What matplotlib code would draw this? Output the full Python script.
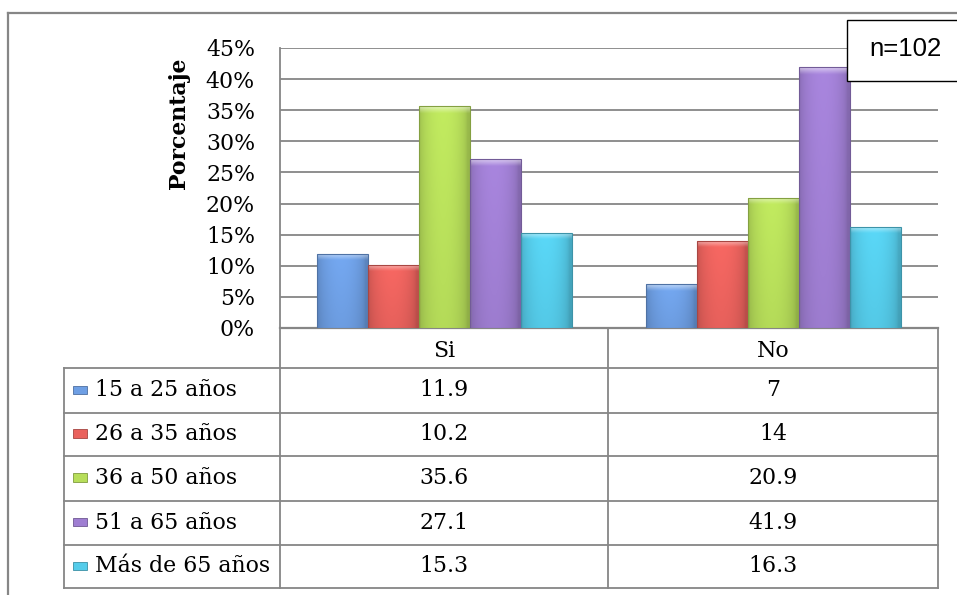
import numpy as np
import matplotlib
matplotlib.use("Agg")
import matplotlib.pyplot as plt
from matplotlib.colors import to_rgb
from matplotlib.patches import Rectangle
from matplotlib.lines import Line2D

# ---- data ----
categories = ["Si", "No"]
groups = ["15 a 25 años", "26 a 35 años", "36 a 50 años", "51 a 65 años", "Más de 65 años"]
values_15_25 = [11.9, 7]
values_26_35 = [10.2, 14]
values_36_50 = [35.6, 20.9]
values_51_65 = [27.1, 41.9]
values_65_plus = [15.3, 16.3]
series = [values_15_25, values_26_35, values_36_50, values_51_65, values_65_plus]
yticks = [0, 5, 10, 15, 20, 25, 30, 35, 40, 45]
sample_note = "n=102"

colors = ["#6E9FE4", "#EA625D", "#B7DE5A", "#9F7ED2", "#55CCEA"]

W, H = 957, 595
fig = plt.figure(figsize=(W / 100, H / 100), dpi=100)
fig.patch.set_facecolor("white")


def fx(px):
    return px / W


def fy(py):
    return 1 - py / H


SERIF = "DejaVu Serif"
FS = 15.8
GRID = "#868686"

# plot area
x_left, x_right, y_top, y_zero = 280, 938, 48, 328
ax = fig.add_axes([fx(x_left), fy(y_zero), fx(x_right) - fx(x_left), fy(y_top) - fy(y_zero)])
ax.set_facecolor("none")

bar_w = 0.155
offsets = (np.arange(len(groups)) - 2) * bar_w
centers = np.arange(len(categories)) + 0.5


def darker(c, f):
    return tuple(np.clip(np.array(to_rgb(c)) * f, 0, 1))


def shade_bar(ax, rect, color):
    x0, w, h = rect.get_x(), rect.get_width(), rect.get_height()
    base = np.array(to_rgb(color))
    nx, ny = 60, 200
    u = np.linspace(0, 1, nx)
    yv = np.linspace(h, 0, ny)
    hfac = 0.84 + 0.22 * np.sin(np.pi * np.clip(u * 1.05, 0, 1)) ** 0.5
    vfac = 0.93 + 0.07 * (yv / max(h, 1e-6))
    img = base[None, None, :] * hfac[None, :, None] * vfac[:, None, None]
    bev = 1.1
    t = np.clip((yv - (h - bev)) / bev, 0, 1)
    mix = 0.55 * t ** 1.1
    img = img * (1 - mix[:, None, None]) + mix[:, None, None]
    img = np.clip(img, 0, 1)
    im = ax.imshow(img, extent=(x0, x0 + w, 0, h), origin="upper", aspect="auto",
                   interpolation="bilinear", zorder=3)
    im.set_clip_path(rect)


for i, (vals, col) in enumerate(zip(series, colors)):
    bars = ax.bar(centers + offsets[i], vals, width=bar_w, color=col, zorder=2.5,
                  edgecolor="none")
    for r in bars:
        shade_bar(ax, r, col)
    ax.bar(centers + offsets[i], vals, width=bar_w, fill=False,
           edgecolor=darker(col, 0.72), linewidth=0.8, zorder=4)

ax.set_xlim(0, 2)
ax.set_ylim(0, 45)
ax.set_yticks(yticks)
ax.set_yticklabels([f"{t}%" for t in yticks], fontfamily=SERIF, fontsize=FS)
ax.tick_params(axis="y", length=0, pad=18)
ax.set_xticks([])
ax.yaxis.grid(True, color=GRID, linewidth=1.3, zorder=0)
ax.set_axisbelow(True)
for s in ["top", "right"]:
    ax.spines[s].set_visible(False)
ax.spines["left"].set_color(GRID)
ax.spines["left"].set_linewidth(1.3)
ax.spines["bottom"].set_color(GRID)
ax.spines["bottom"].set_linewidth(1.6)
ax.set_ylabel("Porcentaje", fontfamily=SERIF, fontsize=FS, fontweight="bold")
ax.yaxis.set_label_coords(fx(190), fy(123), transform=fig.transFigure)


def fline(x0, y0, x1, y1, color=GRID, lw=1.3):
    fig.add_artist(Line2D([fx(x0), fx(x1)], [fy(y0), fy(y1)], color=color, lw=lw,
                          transform=fig.transFigure, zorder=5))


# outer frame
fline(8, 13, 957, 13, lw=1.6)
fline(8, 13, 8, 595, lw=1.6)

# data table
row_lines = [368, 413, 456, 501, 545, 588]
col_si, col_no = 608, 938
tbl_left = 64
for y in row_lines:
    fline(tbl_left, y, x_right, y)
fline(x_left, y_zero, x_left, 588)
fline(col_si, y_zero, col_si, 588)
fline(col_no, y_zero, col_no, 588)
fline(tbl_left, 368, tbl_left, 588)

col_centers_px = [444, 773]
for cx, name in zip(col_centers_px, categories):
    fig.text(fx(cx), fy(351), name, ha="center", va="center", fontfamily=SERIF, fontsize=FS)

row_centers = [(row_lines[k] + row_lines[k + 1]) / 2 for k in range(5)]
for k, (label, vals, col) in enumerate(zip(groups, series, colors)):
    yc = row_centers[k]
    fig.add_artist(Rectangle((fx(73), fy(yc + 3)), fx(87) - fx(73), fy(yc - 5) - fy(yc + 3),
                             facecolor=col, edgecolor=darker(col, 0.7), lw=0.6,
                             transform=fig.transFigure, zorder=6))
    fig.text(fx(95), fy(yc), label, ha="left", va="center", fontfamily=SERIF, fontsize=FS)
    for cx, v in zip(col_centers_px, vals):
        fig.text(fx(cx), fy(yc), f"{v:g}", ha="center", va="center", fontfamily=SERIF, fontsize=FS)

# sample-size box
fig.add_artist(Rectangle((fx(847), fy(81)), fx(970) - fx(847), fy(20) - fy(81),
                         facecolor="white", edgecolor="black", lw=1.0,
                         transform=fig.transFigure, zorder=10))
fig.text(fx(905), fy(49), sample_note, ha="center", va="center",
         fontfamily="Liberation Sans", fontsize=18.5, zorder=11)

fig.savefig("out.png", dpi=100, facecolor="white")
